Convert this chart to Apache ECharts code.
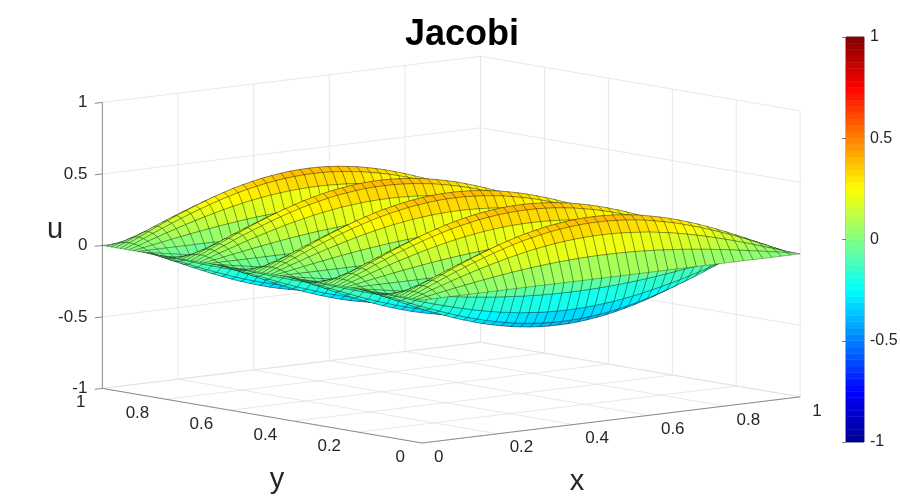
<!DOCTYPE html>
<html>
<head>
<meta charset="utf-8">
<script src="https://cdn.jsdelivr.net/npm/echarts@6/dist/echarts.min.js"></script>
<style>
html, body { margin: 0; padding: 0; background: #fff; }
#main { width: 900px; height: 500px; }
</style>
</head>
<body>
<div id="main"></div>
<script>
// height of a ridge crest along x
var crestHeight = [
  0, 0.031, 0.063, 0.093, 0.124, 0.153, 0.182, 0.209, 0.235, 0.260,
  0.283, 0.304, 0.324, 0.341, 0.356, 0.370, 0.380, 0.389, 0.395, 0.399,
  0.400,
  0.399, 0.395, 0.389, 0.380, 0.370, 0.356, 0.341, 0.324, 0.304, 0.283,
  0.260, 0.235, 0.209, 0.182, 0.153, 0.124, 0.093, 0.063, 0.031, 0
];
// cross section across y, relative to the crest (5 ridges, 4 troughs)
var crossShape = [
  0, 0.38, 0.71, 0.92, 1, 0.92, 0.71, 0.38,
  0, -0.38, -0.71, -0.92, -1, -0.92, -0.71, -0.38,
  0, 0.38, 0.71, 0.92, 1, 0.92, 0.71, 0.38,
  0, -0.38, -0.71, -0.92, -1, -0.92, -0.71, -0.38,
  0, 0.38, 0.71, 0.92, 1, 0.92, 0.71, 0.38,
  0, -0.38, -0.71, -0.92, -1, -0.92, -0.71, -0.38,
  0, 0.38, 0.71, 0.92, 1, 0.92, 0.71, 0.38,
  0, -0.38, -0.71, -0.92, -1, -0.92, -0.71, -0.38,
  0, 0.38, 0.71, 0.92, 1, 0.92, 0.71, 0.38,
  0
];
var xTicks = [0, 0.2, 0.4, 0.6, 0.8, 1];
var yTicks = [0, 0.2, 0.4, 0.6, 0.8, 1];
var zTicks = [-1, -0.5, 0, 0.5, 1];
var jet = ['#000090', '#0000ff', '#0080ff', '#00ffff', '#80ff80', '#ffff00', '#ff8000', '#ff0000', '#800000'];

var FONT = '"Liberation Sans", Arial, Helvetica, sans-serif';

// sample positions
var xs = crestHeight.map(function (_, i) { return i / (crestHeight.length - 1); });
var ys = crossShape.map(function (_, j) { return j / (crossShape.length - 1); });

// surface table u[i][j]
var u = [];
for (var i = 0; i < xs.length; i++) {
  u.push([]);
  for (var j = 0; j < ys.length; j++) {
    u[i].push(crestHeight[i] * crossShape[j]);
  }
}

// view (like matlab view(az, el)), orthographic
var az = -40.2 * Math.PI / 180, el = 8.3 * Math.PI / 180;
var zScale = 0.2918;
var cosA = Math.cos(az), sinA = Math.sin(az), cosE = Math.cos(el), sinE = Math.sin(el);
function proj(x, y, z) {
  var zs = z * zScale;
  return [cosA * x + sinA * y, -sinE * sinA * x + sinE * cosA * y + cosE * zs];
}
function depth(x, y, z) {
  // distance from the viewer, bigger = farther
  return -(sinA * cosE * x - cosA * cosE * y + sinE * z * zScale);
}

// pixel layout of the projection plane
var ox = 422, oy = 443, pxScale = 495.2;
var v0 = proj(0, 0, -1)[1];
var hMin = -ox / pxScale, hMax = (900 - ox) / pxScale;
var vMin = v0 - (500 - oy) / pxScale, vMax = v0 + oy / pxScale;

// surface cells, drawn far to near
var cells = [];
for (var i = 0; i < xs.length - 1; i++) {
  for (var j = 0; j < ys.length - 1; j++) {
    var avg = (u[i][j] + u[i + 1][j] + u[i + 1][j + 1] + u[i][j + 1]) / 4;
    var xc = (xs[i] + xs[i + 1]) / 2, yc = (ys[j] + ys[j + 1]) / 2;
    cells.push({ v: avg, i: i, j: j, d: depth(xc, yc, avg) });
  }
}
cells.sort(function (a, b) { return b.d - a.d; });
var surfaceData = cells.map(function (c) { return [c.v, c.i, c.j]; });

// box grid lines: [x1,y1,z1,x2,y2,z2,kind]
var segs = [];
xTicks.forEach(function (t) {
  segs.push([t, 0, -1, t, 1, -1, 0]);
  segs.push([t, 1, -1, t, 1, 1, 0]);
});
yTicks.forEach(function (t) {
  segs.push([0, t, -1, 1, t, -1, 0]);
  segs.push([1, t, -1, 1, t, 1, 0]);
});
zTicks.forEach(function (t) {
  segs.push([0, 1, t, 1, 1, t, 0]);
  segs.push([1, 0, t, 1, 1, t, 0]);
  segs.push([0, 1, t, -0.02, 1, t, 1]);
});
segs.push([0, 1, -1, 0, 1, 1, 1]);
segs.push([0, 0, -1, 1, 0, -1, 1]);
segs.push([0, 0, -1, 0, 1, -1, 1]);

// tick labels: [axis, index]
var labelData = [];
xTicks.forEach(function (t, k) { labelData.push([0, k]); });
yTicks.forEach(function (t, k) { labelData.push([1, k]); });
zTicks.forEach(function (t, k) { labelData.push([2, k]); });

// colorbar levels (64 like matlab)
var levels = [];
for (var k = 0; k < 64; k++) {
  var lo = -1 + 2 * k / 64, hi = -1 + 2 * (k + 1) / 64;
  levels.push([(lo + hi) / 2, lo, hi]);
}

var dom = document.getElementById('main');
var myChart = echarts.init(dom);
var option = {
  animation: false,
  backgroundColor: '#fff',
  title: {
    text: 'Jacobi',
    left: 405,
    top: 17,
    padding: 0,
    textStyle: { fontSize: 36, fontWeight: 'bold', color: '#000', fontFamily: FONT }
  },
  grid: [
    { left: 0, top: 0, width: 900, height: 500, outerBoundsMode: 'none' },
    { left: 846, top: 37, width: 18, height: 405, outerBoundsMode: 'none',
      show: true, borderColor: '#262626', borderWidth: 0.6 }
  ],
  xAxis: [
    { type: 'value', gridIndex: 0, min: hMin, max: hMax, show: false },
    { type: 'value', gridIndex: 1, min: 0, max: 1, show: false }
  ],
  yAxis: [
    { type: 'value', gridIndex: 0, min: vMin, max: vMax, show: false },
    { type: 'value', gridIndex: 1, min: -1, max: 1, interval: 0.5, position: 'right',
      axisLine: { show: false },
      axisTick: { show: true, inside: true, length: 4, lineStyle: { color: '#262626', width: 0.6 } },
      splitLine: { show: false },
      axisLabel: { show: true, margin: 6, fontSize: 16, color: '#262626', fontFamily: FONT,
        formatter: function (v) { return String(v); } }
    }
  ],
  visualMap: {
    type: 'continuous',
    show: false,
    min: -1,
    max: 1,
    dimension: 0,
    seriesIndex: [1, 2],
    inRange: { color: jet }
  },
  graphic: [
    { type: 'text', x: 55, y: 230, style: { text: 'u', font: '29px ' + FONT, fill: '#262626', align: 'center', verticalAlign: 'middle' } },
    { type: 'text', x: 577, y: 482, style: { text: 'x', font: '29px ' + FONT, fill: '#262626', align: 'center', verticalAlign: 'middle' } },
    { type: 'text', x: 277, y: 480, style: { text: 'y', font: '29px ' + FONT, fill: '#262626', align: 'center', verticalAlign: 'middle' } }
  ],
  series: [
    {
      // walls, floor and axis lines
      type: 'custom',
      xAxisIndex: 0, yAxisIndex: 0,
      silent: true,
      data: segs,
      renderItem: function (params, api) {
        var p1 = api.coord(proj(api.value(0), api.value(1), api.value(2)));
        var p2 = api.coord(proj(api.value(3), api.value(4), api.value(5)));
        var kind = api.value(6);
        return {
          type: 'line',
          shape: { x1: p1[0], y1: p1[1], x2: p2[0], y2: p2[1] },
          style: { stroke: kind === 0 ? '#e2e2e2' : '#8c8c8c', lineWidth: kind === 0 ? 0.8 : 1 }
        };
      }
    },
    {
      // surface
      type: 'custom',
      xAxisIndex: 0, yAxisIndex: 0,
      silent: true,
      progressive: 0,
      data: surfaceData,
      renderItem: function (params, api) {
        var i = api.value(1), j = api.value(2);
        var c = [[i, j], [i + 1, j], [i + 1, j + 1], [i, j + 1]];
        var pts = c.map(function (q) {
          return api.coord(proj(xs[q[0]], ys[q[1]], u[q[0]][q[1]]));
        });
        return {
          type: 'polygon',
          shape: { points: pts },
          style: { fill: api.visual('color'), stroke: 'rgba(0,0,0,0.5)', lineWidth: 0.6 }
        };
      }
    },
    {
      // colorbar
      type: 'custom',
      xAxisIndex: 1, yAxisIndex: 1,
      silent: true,
      data: levels,
      renderItem: function (params, api) {
        var p0 = api.coord([0, api.value(1)]);
        var p1 = api.coord([1, api.value(2)]);
        var col = api.visual('color');
        return {
          type: 'rect',
          shape: { x: p0[0], y: p1[1], width: p1[0] - p0[0], height: p0[1] - p1[1] },
          style: { fill: col, stroke: col, lineWidth: 0.5 }
        };
      }
    },
    {
      // tick labels of the 3d axes
      type: 'custom',
      xAxisIndex: 0, yAxisIndex: 0,
      silent: true,
      data: labelData,
      renderItem: function (params, api) {
        var a = api.value(0), k = api.value(1);
        var p, t, dx, dy, align;
        if (a === 0) { t = xTicks[k]; p = api.coord(proj(t, 0, -1)); dx = 12; dy = 14; align = 'left'; }
        else if (a === 1) { t = yTicks[k]; p = api.coord(proj(0, t, -1)); dx = -17; dy = 14; align = 'right'; }
        else { t = zTicks[k]; p = api.coord(proj(0, 1, t)); dx = -15; dy = 0; align = 'right'; }
        return {
          type: 'text',
          x: p[0] + dx,
          y: p[1] + dy,
          style: { text: String(t), font: '17px ' + FONT, fill: '#262626', align: align, verticalAlign: 'middle' }
        };
      }
    }
  ]
};
if (option && typeof option === "object") {
  myChart.setOption(option, true);
}
</script>
</body>
</html>
